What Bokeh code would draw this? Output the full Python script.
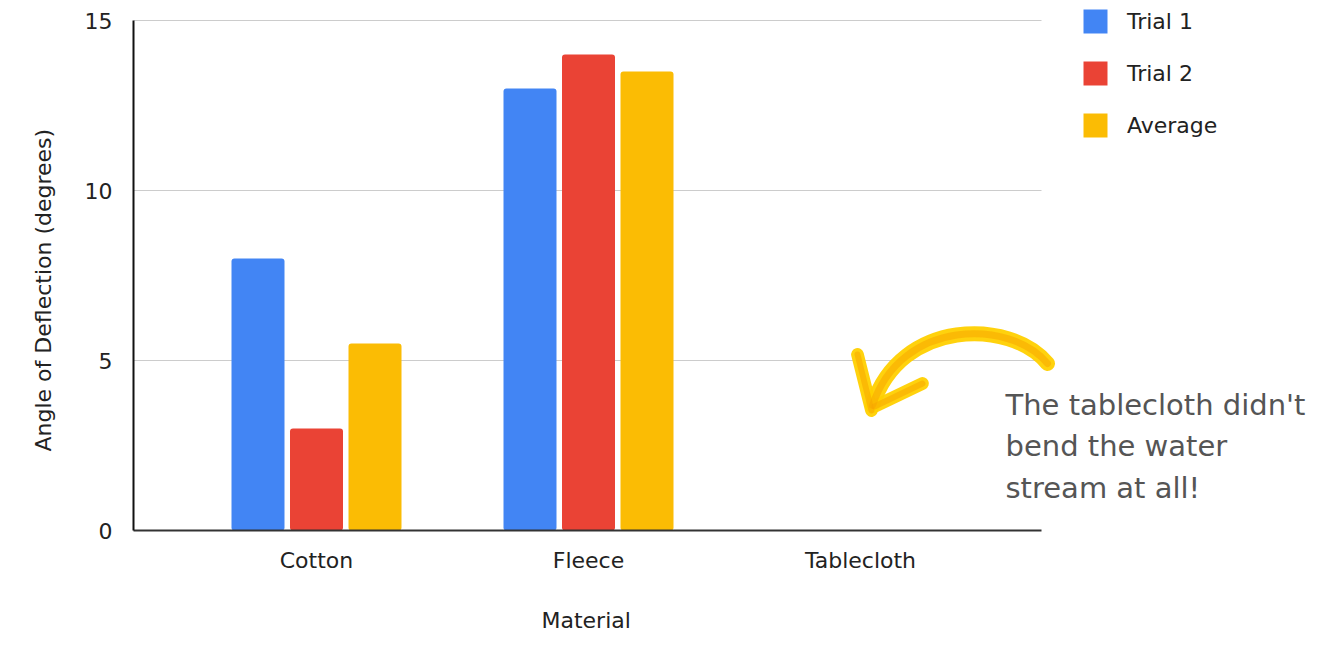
from bokeh.plotting import figure
from bokeh.models import Range1d, FixedTicker, Legend, LegendItem, Title
from bokeh.core.properties import value
from bokeh.embed import file_html
from bokeh.resources import INLINE

# ---- data ----
materials = ["Cotton", "Fleece", "Tablecloth"]
trial1 = [8, 13, 0]
trial2 = [3, 14, 0]
average = [5.5, 13.5, 0]
y_ticks = [0, 5, 10, 15]
series_names = ["Trial 1", "Trial 2", "Average"]
series_colors = ["#4285F4", "#EA4335", "#FBBC04"]
x_title = "Material"
y_title = "Angle of Deflection (degrees)"
note_lines = ["The tablecloth didn't", "bend the water", "stream at all!"]

FONT = "DejaVu Sans"
TXT = "#222222"

# layout: frame from px 133..1331 horizontally, 0..530 vertically (value 15 at px 20)
FL, FB, FR = 133, 530, 1331
Y15_PX = 20
CAT0_PX, CAT_STEP = 316.0, 272.0
x_start = (FL - CAT0_PX) / CAT_STEP
x_end = (FR - CAT0_PX) / CAT_STEP
axis_end = (1041 - CAT0_PX) / CAT_STEP
ypx = (FB - Y15_PX) / 15.0
y_top = FB / ypx


def px(xp, yp):
    return (xp - CAT0_PX) / CAT_STEP, (FB - yp) / ypx


p = figure(
    frame_width=FR - FL, frame_height=FB,
    min_border_left=FL, min_border_top=0, min_border_bottom=645 - FB, min_border_right=0,
    x_range=Range1d(x_start, x_end), y_range=Range1d(0, y_top),
    output_backend="svg", toolbar_location=None,
)
p.outline_line_color = None
p.xgrid.visible = False
p.ygrid.visible = False

# gridlines restricted to chart width
gl = [t for t in y_ticks if t > 0]
p.segment(x0=[x_start] * len(gl), x1=[axis_end] * len(gl), y0=gl, y1=gl,
          line_color="#cccccc", line_width=1)

xs = list(range(len(materials)))
bw = 53 / CAT_STEP
off = 58.5 / CAT_STEP
renderers = []
for i, (vals, col) in enumerate(zip([trial1, trial2, average], series_colors)):
    r = p.vbar(x=[x + (i - 1) * off for x in xs], top=vals, width=bw, bottom=0,
               fill_color=col, line_color=None, border_radius=3)
    renderers.append(r)

legend = Legend(items=[LegendItem(label=n, renderers=[r]) for n, r in zip(series_names, renderers)],
                location=(947, 390), padding=0, margin=0, spacing=22,
                glyph_width=30, glyph_height=30, label_height=30, label_standoff=17,
                label_text_font=FONT, label_text_font_size="22px", label_text_color=TXT,
                border_line_color=None, background_fill_alpha=0)
p.add_layout(legend)

# axes
ya = p.yaxis[0]
ya.ticker = FixedTicker(ticks=y_ticks)
ya.bounds = (y_ticks[0], y_ticks[-1])
ya.axis_line_color = "#111111"
ya.axis_line_width = 2
ya.major_tick_line_color = None
ya.minor_tick_line_color = None
ya.major_label_standoff = 15
ya.major_label_text_font = FONT
ya.major_label_text_font_size = "22px"
ya.major_label_text_color = TXT

xa = p.xaxis[0]
xa.ticker = FixedTicker(ticks=xs)
xa.major_label_overrides = {i: m for i, m in enumerate(materials)}
xa.bounds = (x_start, axis_end)
xa.axis_line_color = "#333333"
xa.axis_line_width = 2
xa.major_tick_line_color = None
xa.minor_tick_line_color = None
xa.major_label_standoff = 11
xa.major_label_text_font = FONT
xa.major_label_text_font_size = "22px"
xa.major_label_text_color = TXT

# axis titles as side-panel titles so they can be centred on the chart area
p.add_layout(Title(text=x_title, align="left", offset=408, standoff=60, vertical_align="bottom",
                   text_font=FONT, text_font_size="22px", text_font_style="normal",
                   text_color=TXT), "below")
p.add_layout(Title(text=y_title, align="left", offset=79, standoff=48, vertical_align="top",
                   text_font=FONT, text_font_size="22px", text_font_style="normal",
                   text_color=TXT), "left")

# hand-drawn arrow annotation
a0 = px(1047, 363); c0 = px(1010, 318); c1 = px(900, 318); a1 = px(872, 405)
for lw, col, al in [(15, "#FFD000", 0.95), (7, "#F7A600", 0.55)]:
    p.bezier(x0=[a0[0]], y0=[a0[1]], x1=[a1[0]], y1=[a1[1]],
             cx0=[c0[0]], cy0=[c0[1]], cx1=[c1[0]], cy1=[c1[1]],
             line_color=col, line_width=lw, line_alpha=al, line_cap="round")
    b1s, b1e = px(857, 354), px(871, 410)
    b2s, b2e = px(922, 383), px(874, 406)
    p.segment(x0=[b1s[0], b2s[0]], y0=[b1s[1], b2s[1]], x1=[b1e[0], b2e[0]], y1=[b1e[1], b2e[1]],
              line_color=col, line_width=lw * 0.85, line_alpha=al, line_cap="round")

ty = [404, 445, 487]
tx = [px(1005, y)[0] for y in ty]
tyd = [px(1005, y)[1] for y in ty]
p.text(x=tx, y=tyd, text=note_lines, text_font=value(FONT), text_font_size="29px",
       text_color="#555555", text_baseline="middle", text_align="left")

open("out.html", "w").write(file_html(p, INLINE))
